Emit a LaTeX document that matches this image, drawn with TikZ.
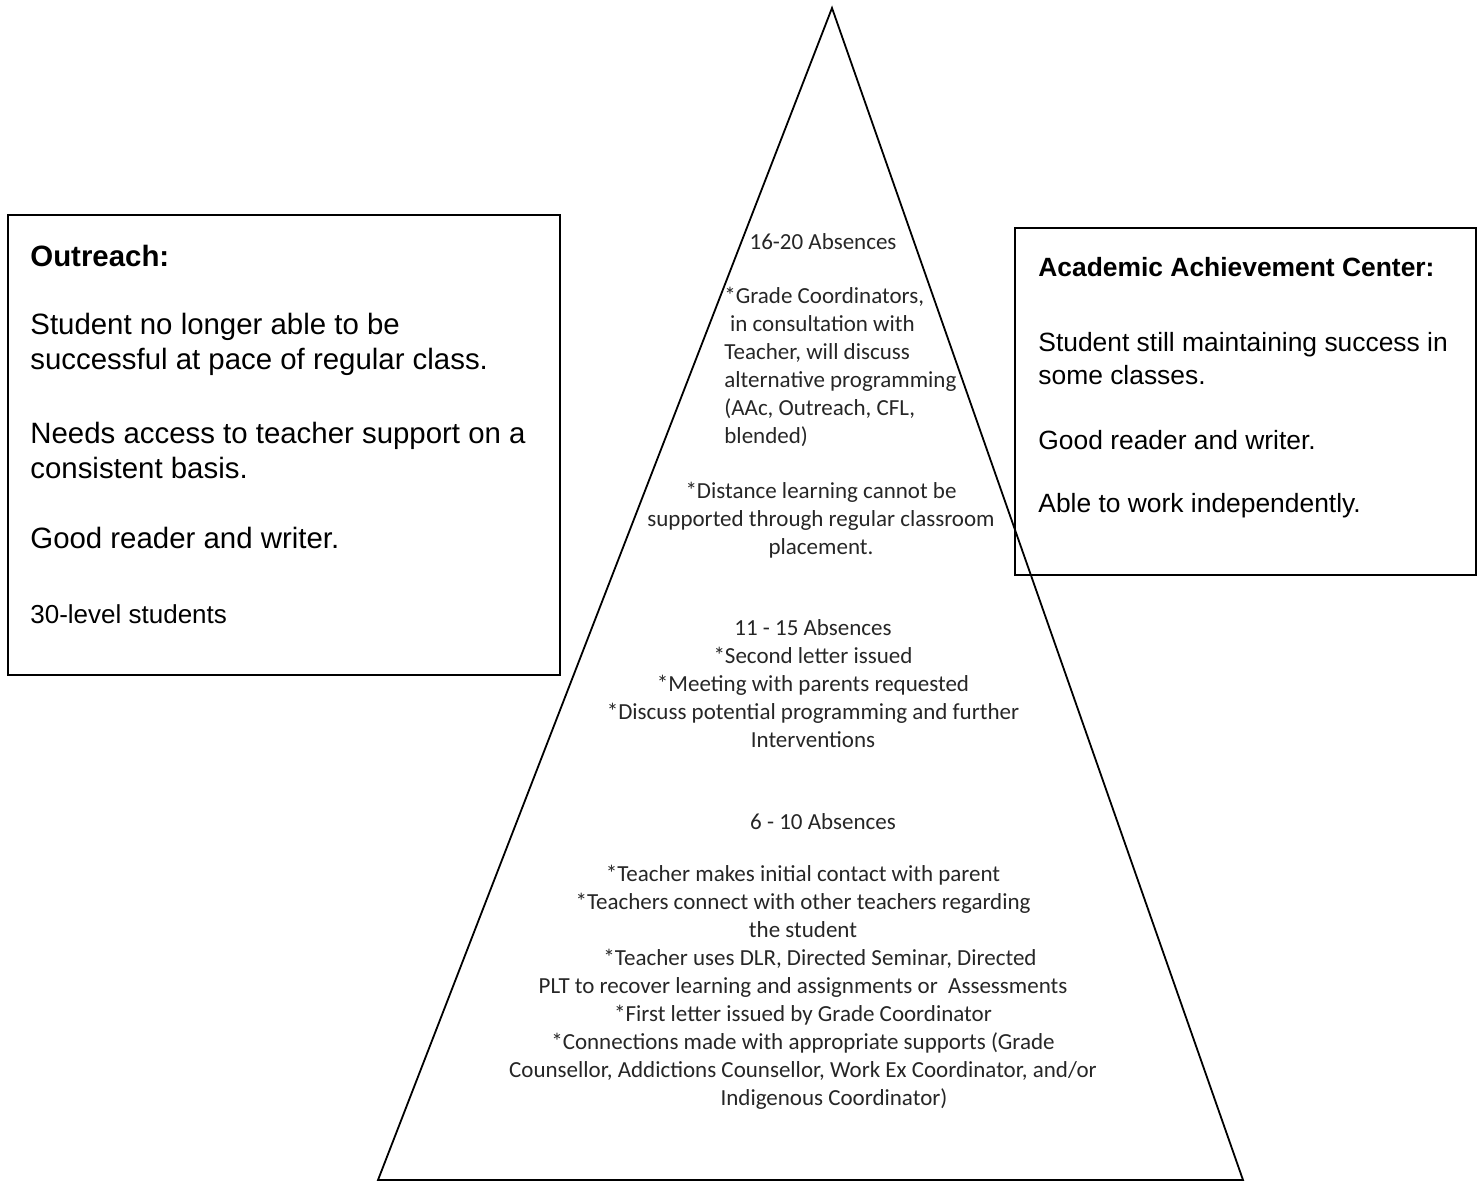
\documentclass[tikz,border=0pt]{standalone}
\usepackage{fontspec}
\setmainfont{Liberation Sans}
\newfontfamily\calfont{Carlito}
\usepackage{tikz}
\usetikzlibrary{fit}

\tikzset{
  box/.style={draw,line width=1pt,inner sep=0pt},
  pyr/.style={draw,line width=0.9pt,line join=miter},
  bigtxt/.style={font=\fontsize{14.7}{17.5}\selectfont,align=left,inner sep=0pt,anchor=west},
  midtxt/.style={font=\fontsize{13.2}{16.5}\selectfont,align=left,inner sep=0pt,anchor=west},
  smalltxt/.style={font=\fontsize{13}{15}\selectfont,align=left,inner sep=0pt,anchor=west},
  tritxt/.style={font=\calfont\fontsize{11.5}{14}\selectfont,align=center,inner sep=0pt,text=black!85}
}

\begin{document}
\begin{tikzpicture}[x=0.5pt,y=-0.5pt]
\useasboundingbox (0,0) rectangle (1481,1181);
% pyramid
\coordinate (apex) at (832,8);
\coordinate (baseL) at (378,1180);
\coordinate (baseR) at (1243,1180);
\draw[pyr] (apex)--(baseR)--(baseL)--cycle;

% side boxes
\node[box,fit={(8,215)(560,675)}] (outbox) {};
\node[box,fit={(1015,228)(1476,575)}] (aacbox) {};

% Outreach
\node[bigtxt] (outhead) at (30,256) {\bfseries Outreach:};
\node[bigtxt] (outp1) at (30,344.5) {Student no longer able to be\\successful at pace of regular class.};
\node[bigtxt] (outp2) at (30,450) {Needs access to teacher support on a\\consistent basis.};
\node[bigtxt] (outp3) at (30,538) {Good reader and writer.};
\node[smalltxt] (outp4) at (30,614) {30-level students};

% Academic Achievement Center
\node[midtxt] (aachead) at (1038,267) {\bfseries Academic Achievement Center:};
\node[midtxt] (aacp1) at (1038,358.5) {Student still maintaining success in\\some classes.};
\node[midtxt] (aacp2) at (1038,440) {Good reader and writer.};
\node[midtxt] (aacp3) at (1038,506) {Able to work independently.};

% 16-20
\node[tritxt] (top) at (823,242) {16-20 Absences};
\node[tritxt,align=left,anchor=west] (grade) at (724,367) {*Grade Coordinators,\\\hspace*{0.25em}in consultation with\\Teacher, will discuss\\alternative programming\\(AAc, Outreach, CFL,\\blended)};
\node[tritxt] (dist) at (821,520) {*Distance learning cannot be\\supported through regular classroom\\placement.};

% 11-15
\node[tritxt] (middle) at (813,683.5) {11 - 15 Absences\\*Second letter issued\\*Meeting with parents requested\\*Discuss potential programming and further\\Interventions};

% 6-10
\node[tritxt] (low) at (823,822) {6 - 10 Absences};
\node[tritxt] (lowlist) at (803,987.5) {*Teacher makes initial contact with parent\\*Teachers connect with other teachers regarding\\the student\\\hspace*{17pt}*Teacher uses DLR, Directed Seminar, Directed\\PLT to recover learning and assignments or\ \ Assessments\\*First letter issued by Grade Coordinator\\*Connections made with appropriate supports (Grade\\Counsellor, Addictions Counsellor, Work Ex Coordinator, and/or\\\hspace*{31pt}Indigenous Coordinator)};
\end{tikzpicture}
\end{document}
